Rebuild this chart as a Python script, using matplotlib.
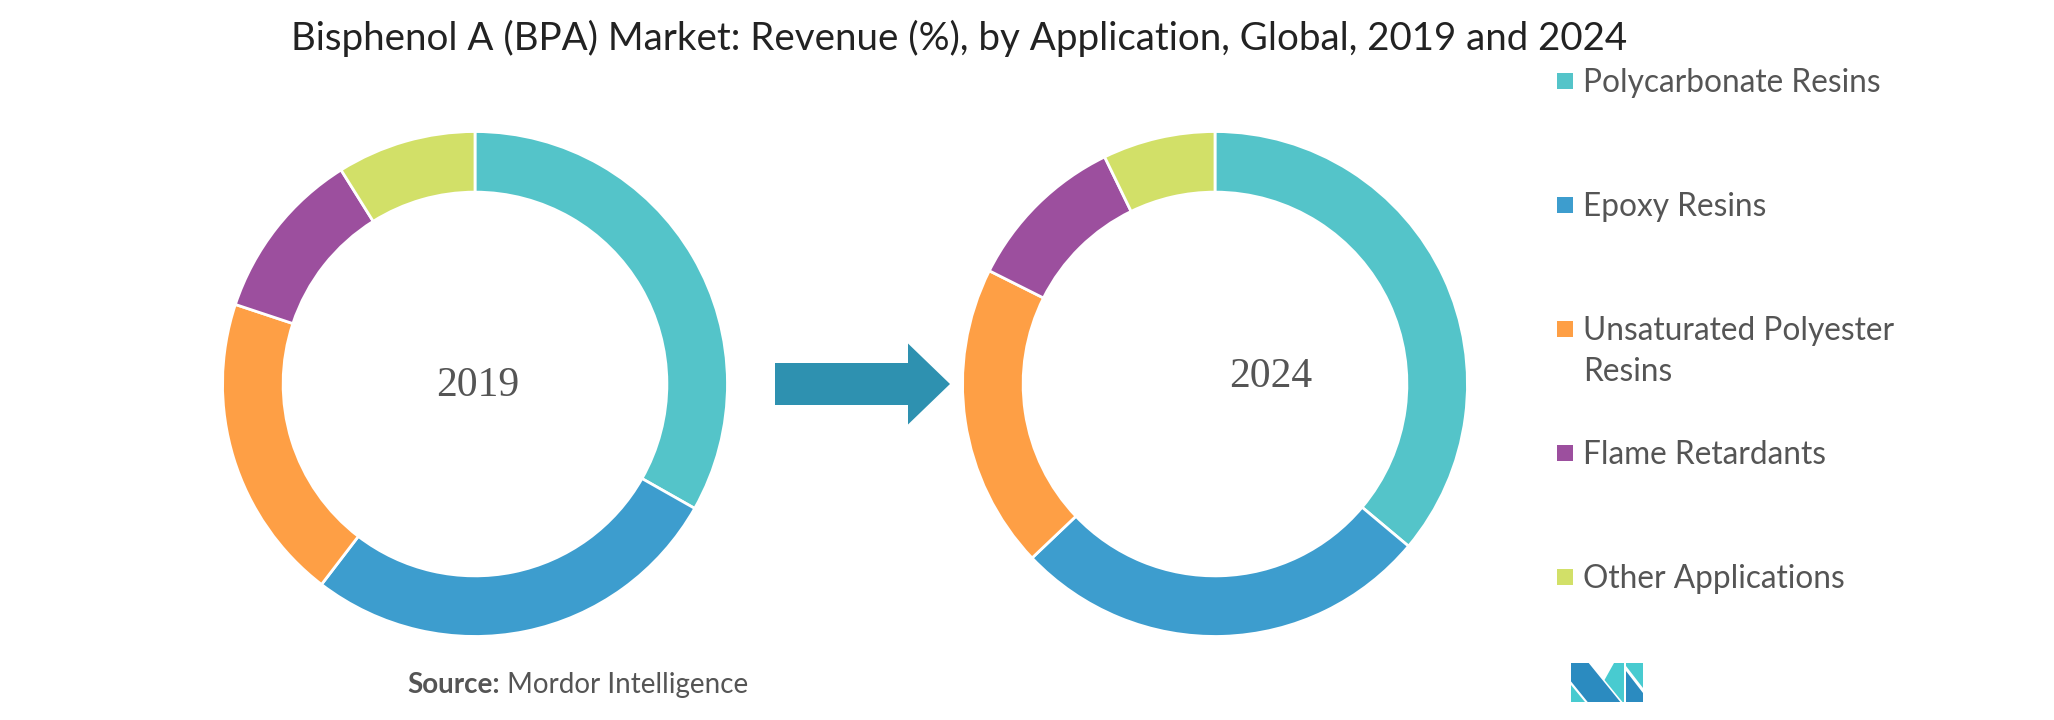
import textwrap
import matplotlib
matplotlib.use("Agg")
import matplotlib.pyplot as plt
from matplotlib.patches import Rectangle, Polygon, FancyArrow

TITLE = "Bisphenol A (BPA) Market: Revenue (%), by Application, Global, 2019 and 2024"
APPLICATIONS = [
    "Polycarbonate Resins",
    "Epoxy Resins",
    "Unsaturated Polyester Resins",
    "Flame Retardants",
    "Other Applications",
]
YEARS = ["2019", "2024"]
SHARE_2019 = [33.2, 27.2, 19.7, 11.0, 8.9]
SHARE_2024 = [36.1, 26.8, 19.5, 10.4, 7.2]
COLORS = ["#54C4C9", "#3D9DCE", "#FE9F45", "#9C4F9E", "#D2E068"]

W, H = 2054, 720
SANS = ["Lato", "DejaVu Sans"]
GREY = "#555555"


def px_box(cx, cy, r):
    return [(cx - r) / W, (H - cy - r) / H, 2 * r / W, 2 * r / H]


def fit_width(txt, target, renderer):
    bb = txt.get_window_extent(renderer)
    txt.set_fontsize(txt.get_fontsize() * target / bb.width)


fig = plt.figure(figsize=(W / 100, H / 100), dpi=100)
renderer = fig.canvas.get_renderer()

# donuts
donuts = [(SHARE_2019, 475), (SHARE_2024, 1215)]
for share, cx in donuts:
    ax = fig.add_axes(px_box(cx, 384, 255))
    ax.pie(share, colors=COLORS, startangle=90, counterclock=False, radius=1,
           wedgeprops=dict(width=0.24, edgecolor="white", linewidth=2))
    ax.set_xlim(-1.01, 1.01)
    ax.set_ylim(-1.01, 1.01)

# overlay in pixel coordinates for labels, legend, arrow and logo
over = fig.add_axes([0, 0, 1, 1])
over.set_xlim(0, W)
over.set_ylim(H, 0)
over.axis("off")

label_pos = [(478, 396), (1271, 387)]
for year, (x, y) in zip(YEARS, label_pos):
    over.text(x, y, year, ha="center", va="baseline", fontsize=30,
              family=["Liberation Serif", "DejaVu Serif"], color=GREY)

over.add_patch(FancyArrow(775, 384, 175, 0, width=42, head_width=81,
                          head_length=42, length_includes_head=True,
                          color="#2E91B0", lw=0))

# title
title = over.text(291, 50, TITLE, ha="left", va="baseline", fontsize=22,
                  family=SANS, color="#222222")
fit_width(title, 1331, renderer)

# legend
probe = over.text(0, 0, APPLICATIONS[0], fontsize=22, family=SANS)
fit_width(probe, 296, renderer)
leg_size = probe.get_fontsize()
probe.remove()
for i, (name, color) in enumerate(zip(APPLICATIONS, COLORS)):
    cy = 80.7 + i * 124.1
    over.add_patch(Rectangle((1557, cy - 8), 16, 16, color=color, lw=0))
    for j, line in enumerate(textwrap.wrap(name, 22)):
        over.text(1583, cy + 11 + j * 41, line, ha="left", va="baseline",
                  fontsize=leg_size, family=SANS, color=GREY)

# source
src_b = over.text(407, 693, "Source:", ha="left", va="baseline", fontsize=18,
                  family=SANS, weight="bold", color=GREY)
src_r = over.text(0, 693, " Mordor Intelligence", ha="left", va="baseline",
                  fontsize=18, family=SANS, color=GREY)
wb = src_b.get_window_extent(renderer).width
wr = src_r.get_window_extent(renderer).width
k = 340 / (wb + wr)
src_b.set_fontsize(18 * k)
src_r.set_fontsize(18 * k)
src_r.set_x(407 + wb * k)

# logo
lx, ly = 1571, 663
dark, light = "#2B8BC0", "#48CBD0"
logo = [
    ([(0, 0), (17.7, 0), (49.3, 39), (16.7, 39), (0, 18.4)], dark),
    ([(0, 21.5), (0, 39), (14, 39)], light),
    ([(43, 0), (53, 0), (53, 39), (51.5, 39), (33.5, 17)], light),
    ([(55, 0), (72, 0), (72, 25), (55, 3)], light),
    ([(55, 8), (72, 30), (72, 39), (55, 39)], dark),
]
for pts, c in logo:
    over.add_patch(Polygon([(lx + x, ly + y) for x, y in pts], closed=True,
                           color=c, lw=0))

fig.savefig("out.png", dpi=100)
